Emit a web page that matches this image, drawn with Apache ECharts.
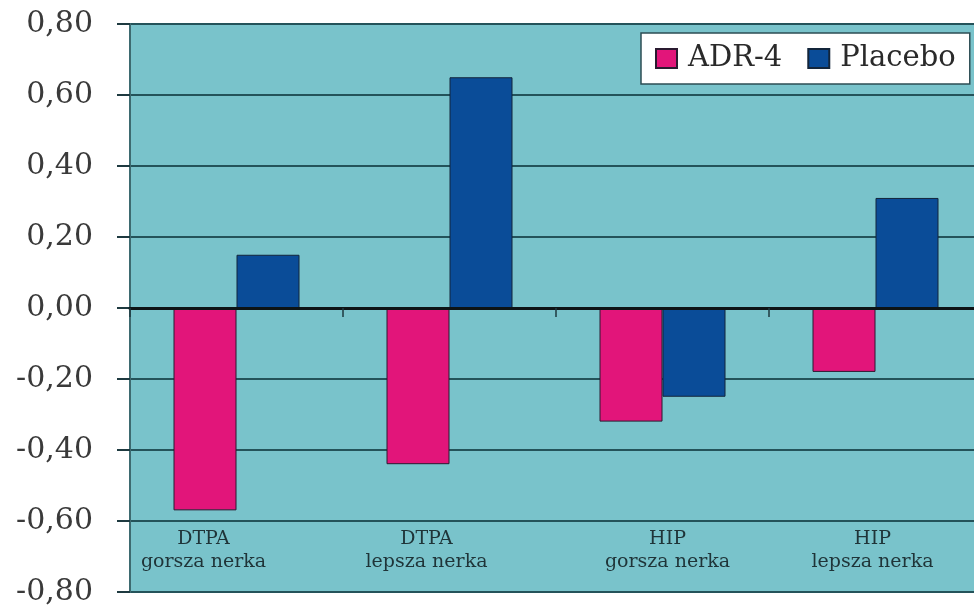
<!DOCTYPE html>
<html>
<head>
<meta charset="utf-8">
<script src="https://cdn.jsdelivr.net/npm/echarts@6/dist/echarts.min.js"></script>
<style>
  html, body { margin: 0; padding: 0; background: #ffffff; }
  #chart { width: 974px; height: 606px; }
</style>
</head>
<body>
<div id="chart"></div>
<script>
// Categories (two-line labels) and series values
const categories = [
  'DTPA\ngorsza nerka',
  'DTPA\nlepsza nerka',
  'HIP\ngorsza nerka',
  'HIP\nlepsza nerka'
];
const seriesNames = ['ADR-4', 'Placebo'];
const adr4Values = [-0.57, -0.44, -0.32, -0.18];
const placeboValues = [0.15, 0.65, -0.25, 0.31];
const yMin = -0.8;
const yMax = 0.8;
const yStep = 0.2;

// Horizontal nudge (px) of each category caption relative to its slot centre
const captionShift = [-33, -23, 5, -3];

const FONT = 'DejaVu Serif';
const chart = echarts.init(document.getElementById('chart'));

// Build rich-text styles so each caption can be nudged sideways via padding
const captionRich = {};
captionShift.forEach((s, i) => {
  captionRich['c' + i] = {
    fontFamily: FONT,
    fontSize: 19,
    lineHeight: 23,
    color: '#1f3438',
    align: 'center',
    padding: s < 0 ? [0, -2 * s, 0, 0] : [0, 0, 0, 2 * s]
  };
});

chart.setOption({
  backgroundColor: '#ffffff',
  animation: false,
  legend: {
    data: seriesNames,
    left: 641,
    top: 33,
    orient: 'horizontal',
    backgroundColor: '#ffffff',
    borderColor: '#2d4d54',
    borderWidth: 1.5,
    padding: [11, 14, 11, 14],
    itemGap: 25,
    itemWidth: 21,
    itemHeight: 19,
    icon: 'rect',
    textStyle: {
      fontFamily: FONT,
      fontSize: 29,
      color: '#2a2a2a',
      padding: [0, 0, 0, 6]
    }
  },
  grid: {
    left: 130,
    width: 852,
    top: 24,
    bottom: 14,
    show: true,
    backgroundColor: '#79c3cb',
    borderWidth: 0,
    containLabel: false,
    outerBoundsMode: 'none'
  },
  xAxis: [
    {
      type: 'category',
      data: categories,
      axisLine: { onZero: true, lineStyle: { color: '#0d1416', width: 3 } },
      axisTick: { show: true, length: 9, lineStyle: { color: '#1e3a40', width: 1.5 } },
      axisLabel: { show: false },
      splitLine: { show: false },
      z: 5
    },
    {
      type: 'category',
      data: categories,
      position: 'bottom',
      axisLine: { show: false },
      axisTick: { show: false },
      axisLabel: {
        show: true,
        inside: true,
        margin: 18,
        formatter: (value, idx) =>
          value.split('\n').map(line => '{c' + idx + '|' + line + '}').join('\n'),
        rich: captionRich
      },
      splitLine: { show: false }
    }
  ],
  yAxis: {
    type: 'value',
    min: yMin,
    max: yMax,
    interval: yStep,
    axisLine: { show: true, lineStyle: { color: '#3d6a70', width: 2 } },
    axisTick: { show: true, length: 13, lineStyle: { color: '#1e3a40', width: 2 } },
    axisLabel: {
      margin: 37,
      fontFamily: FONT,
      fontSize: 30,
      color: '#3a3a3a',
      formatter: v => v.toFixed(2).replace('.', ',')
    },
    splitLine: { show: true, lineStyle: { color: '#24535a', width: 2 } }
  },
  series: [
    {
      name: seriesNames[0],
      type: 'bar',
      xAxisIndex: 0,
      data: adr4Values,
      barWidth: 63,
      barGap: '0%',
      itemStyle: { color: '#e2157a', borderColor: '#2a1a30', borderWidth: 1 }
    },
    {
      name: seriesNames[1],
      type: 'bar',
      xAxisIndex: 0,
      data: placeboValues,
      barWidth: 63,
      barGap: '0%',
      itemStyle: { color: '#0a4c98', borderColor: '#13253a', borderWidth: 1 }
    }
  ]
});
</script>
</body>
</html>
